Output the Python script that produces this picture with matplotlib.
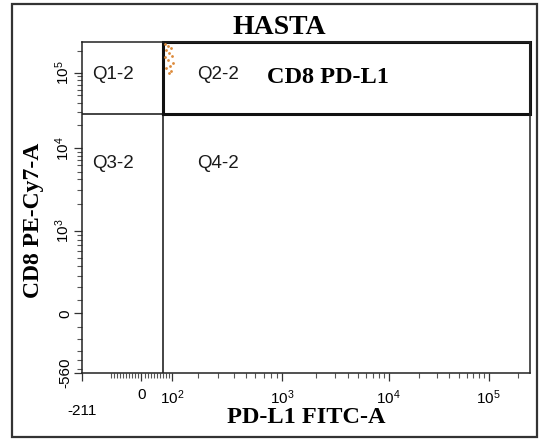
import numpy as np
import matplotlib
matplotlib.use("Agg")
import matplotlib.pyplot as plt
from matplotlib.patches import Rectangle

# logicle display parameters (fitted to the FlowJo axes)
T = 262144
W_X, M_X = 0.82, 4.75
W_Y, M_Y = 0.78, 4.45

x_lim = (-211, T)
y_lim = (-560, T)

x_major = [0, 1e2, 1e3, 1e4, 1e5]
x_major_labels = ["0", "$10^2$", "$10^3$", "$10^4$", "$10^5$"]
y_major = [-560, 0, 1e3, 1e4, 1e5]
y_major_labels = ["-560", "0", "$10^3$", "$10^4$", "$10^5$"]

# quadrant gate
gate_x = 70
gate_y = 28000
quad_names = ["Q1-2", "Q2-2", "Q3-2", "Q4-2"]

# the few events visible (top left of Q2-2)
events_x = [76, 84, 95, 78, 90, 100, 74, 86, 104, 92, 80, 97, 88]
events_y = [245000, 232000, 218000, 204000, 188000, 172000, 165000,
            150000, 138000, 126000, 116000, 107000, 100000]


def logicle(W, M):
    pg = np.linspace(1.0001, 50, 200000)
    p = np.interp(W, 2 * pg * np.log10(pg) / (pg + 1), pg)

    def S(y):
        y = np.asarray(y, float)
        d = np.abs(y - W)
        v = T * 10 ** (-(M - W)) * (10 ** d - p ** 2 * 10 ** (-d / p) + p ** 2 - 1)
        return np.where(y >= W, v, -v)

    grid = np.linspace(-2, M + 0.6, 60001)
    vals = S(grid)

    def fwd(x):
        return np.interp(np.asarray(x, float), vals, grid)

    return fwd, S


def minor_list(neg, lin_step, lin_max):
    ticks = [v for v in np.arange(-neg, lin_max + 1, lin_step) if v not in (0, lin_max)]
    for dec in [1e2, 1e3, 1e4, 1e5]:
        for k in range(2, 10):
            if k * dec > lin_max and k * dec < T:
                ticks.append(k * dec)
    return ticks


plt.rcParams["mathtext.fontset"] = "custom"
plt.rcParams["mathtext.rm"] = "Liberation Sans"
plt.rcParams["mathtext.it"] = "Liberation Sans"
plt.rcParams["font.family"] = "Liberation Sans"

fig = plt.figure(figsize=(5.39, 4.40), dpi=100)
ax = fig.add_axes([82 / 539, 1 - 373 / 440, 448 / 539, 331 / 440])

ax.set_xscale("function", functions=logicle(W_X, M_X))
ax.set_yscale("function", functions=logicle(W_Y, M_Y))
ax.set_xlim(*x_lim)
ax.set_ylim(*y_lim)

ax.scatter(events_x, events_y, s=4, color="#dc8a3a", linewidths=0, zorder=3)

# quadrant lines
ax.axvline(gate_x, color="#111111", lw=1.1)
ax.axhline(gate_y, color="#111111", lw=1.1)
# CD8 PD-L1 gate box around Q2-2
ax.plot([gate_x, T, T, gate_x, gate_x], [gate_y, gate_y, T, T, gate_y],
        color="#111111", lw=2.2, clip_on=False, solid_joinstyle="miter")

ax.set_xticks([x_lim[0]] + x_major)
ax.set_xticklabels([""] + x_major_labels)
ax.set_xticks(minor_list(100, 10, 100), minor=True)
ax.set_yticks(y_major)
ax.set_yticklabels(y_major_labels, rotation=90, va="center")
ax.set_yticks(minor_list(500, 100, 1000), minor=True)
ax.annotate("-211", xy=(x_lim[0], 0), xycoords=("data", "axes fraction"),
            xytext=(0, -27), textcoords="offset points", ha="center",
            va="center", fontsize=11)

ax.tick_params(which="major", length=6, width=0.9, labelsize=11, color="#333333")
ax.tick_params(axis="x", which="major", pad=5)
ax.tick_params(axis="y", which="major", pad=1)
ax.tick_params(which="minor", length=3.5, width=0.8, color="#555555")
for s in ax.spines.values():
    s.set_linewidth(1.1)
    s.set_color("#222222")

ax.set_xlabel("PD-L1 FITC-A", family="Liberation Serif", weight="bold",
              fontsize=17.5, labelpad=0)
ax.set_ylabel("CD8 PE-Cy7-A", family="Liberation Serif", weight="bold",
              fontsize=17)
ax.yaxis.set_label_coords(-0.085, 0.46)

# quadrant names
qpos = [(0.022, 0.903), (0.258, 0.903), (0.022, 0.633), (0.258, 0.633)]
for name, (qx, qy) in zip(quad_names, qpos):
    ax.text(qx, qy, name, transform=ax.transAxes, fontsize=13.5,
            va="center", ha="left", color="#1a1a1a")

ax.text(0.414, 0.893, "CD8 PD-L1", transform=ax.transAxes,
        family="Liberation Serif", weight="bold", fontsize=17.5, va="center")

fig.text(279 / 539, 1 - 27 / 440, "HASTA", family="Liberation Serif",
         weight="bold", fontsize=20, ha="center", va="center")

# outer frame of the exported panel
fig.patches.append(Rectangle((12 / 539, 3 / 440), 525 / 539, 433 / 440,
                             transform=fig.transFigure, fill=False,
                             lw=1.6, edgecolor="#333333"))

fig.savefig("out.png", dpi=100)
